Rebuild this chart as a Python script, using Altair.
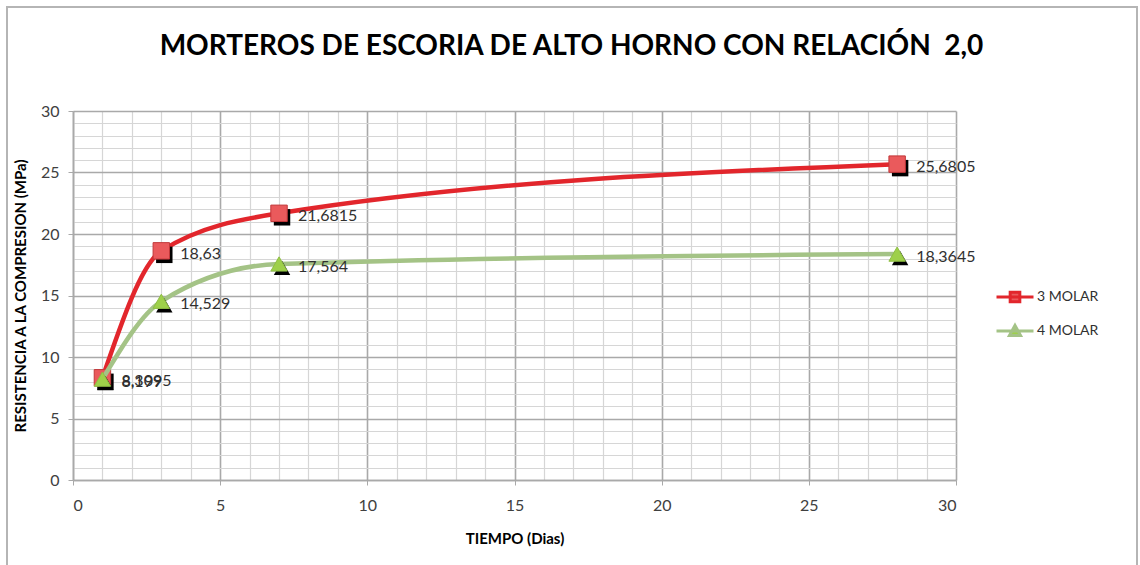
import altair as alt
import pandas as pd

# Compressive strength of slag mortars by curing age
series_names = ["3 MOLAR", "4 MOLAR"]
dias = [1, 3, 7, 28]
molar_3 = [8.3095, 18.63, 21.6815, 25.6805]
molar_4 = [8.199, 14.529, 17.564, 18.3645]

line_colors = ["#e2262c", "#a4c386"]
marker_fills = ["#ea5a5c", "#9ed04a"]
marker_strokes = ["#c2383a", "#8fbf45"]
marker_shapes = ["square", "triangle-up"]

# legend glyphs: a short line with the marker in the middle
legend_paths = [
    "M-1,0H1M-0.26,-0.26H0.26V0.26H-0.26Z",
    "M-1,0H1M0,-0.3L0.3,0.24H-0.3Z",
]
legend_tops = [166, 200]

FONT = "Lato"
MAJOR = "datum.value % 5 === 0"


def make_axis(title, label_pad, title_pad):
    return alt.Axis(
        values=list(range(0, 31)),
        tickCount=40,
        labelExpr=f"{MAJOR} ? datum.label : ''",
        labelOverlap=False,
        gridColor={"condition": {"test": MAJOR, "value": "#a9a9a9"}, "value": "#d6d6d6"},
        gridWidth={"condition": {"test": MAJOR, "value": 1.6}, "value": 1.2},
        tickSize={"condition": {"test": MAJOR, "value": 5}, "value": 0},
        tickColor="#a9a9a9",
        domainColor="#a9a9a9",
        domainWidth=1.6,
        labelFontSize=16,
        labelColor="#404040",
        labelPadding=label_pad,
        title=title,
        titleFontSize=15,
        titleFontWeight="bold",
        titleColor="#000000",
        titlePadding=title_pad,
    )


x_enc = alt.X("dias:Q", scale=alt.Scale(domain=[0, 30], nice=False),
              axis=make_axis("TIEMPO (Dias)", 12, 18))
y_enc = alt.Y("mpa:Q", scale=alt.Scale(domain=[0, 30], nice=False),
              axis=make_axis("RESISTENCIA A LA COMPRESION (MPa)", 9, 12))


def series_layer(i, name, vals):
    df = pd.DataFrame({
        "serie": name,
        "dias": dias,
        "mpa": vals,
        "etiqueta": [str(v).replace(".", ",") for v in vals],
    })
    base = alt.Chart(df)
    legend = alt.Legend(
        orient="none",
        legendX=922,
        legendY=legend_tops[i],
        title=None,
        labelFontSize=14,
        labelColor="#303030",
        labelFont=FONT,
        symbolType=legend_paths[i],
        symbolSize=1369,
        symbolStrokeWidth=3,
        symbolFillColor=marker_fills[i],
        symbolStrokeColor=line_colors[i],
        labelOffset=2,
    )
    line = base.mark_line(interpolate="monotone", strokeWidth=4.5).encode(
        x=x_enc,
        y=y_enc,
        color=alt.Color("serie:N", scale=alt.Scale(domain=[name], range=[line_colors[i]]),
                        legend=legend),
    )
    shadow = base.mark_point(
        shape=marker_shapes[i], filled=True, opacity=1, color="#000000",
        size=270, xOffset=3, yOffset=4,
    ).encode(x="dias:Q", y="mpa:Q")
    marker = base.mark_point(
        shape=marker_shapes[i], filled=True, opacity=1, size=270,
        fill=marker_fills[i], stroke=marker_strokes[i], strokeWidth=1,
    ).encode(x="dias:Q", y="mpa:Q")
    label = base.mark_text(
        align="left", baseline="middle", dx=19, dy=3, fontSize=16,
        font=FONT, color="#303030",
    ).encode(x="dias:Q", y="mpa:Q", text="etiqueta:N")
    return alt.layer(line, shadow, marker, label)


# outer chart border
frame = alt.Chart(pd.DataFrame({"k": [0]})).mark_rect(
    fill=None, stroke="#b5b5b5", strokeWidth=2
).encode(
    x=alt.value(-66), x2=alt.value(1064), y=alt.value(-104), y2=alt.value(470)
)

chart = (
    alt.layer(
        frame,
        series_layer(0, series_names[0], molar_3),
        series_layer(1, series_names[1], molar_4),
    )
    .resolve_scale(color="independent")
    .properties(
        width=883,
        height=369,
        title=alt.TitleParams(
            "MORTEROS DE ESCORIA DE ALTO HORNO CON RELACIÓN \u00a02,0",
            fontSize=28,
            font=FONT,
            fontWeight="bold",
            color="#000000",
            anchor="middle",
            frame="group",
            dx=57,
            offset=-55,
        ),
        autosize=alt.AutoSizeParams(type="none"),
        padding={"left": 73, "top": 111, "right": 184, "bottom": 85},
    )
    .configure(font=FONT)
    .configure_view(stroke=None)
    .configure_axis(labelFont=FONT, titleFont=FONT)
)

chart.save("out.html", embed_options={"renderer": "svg", "actions": False})
